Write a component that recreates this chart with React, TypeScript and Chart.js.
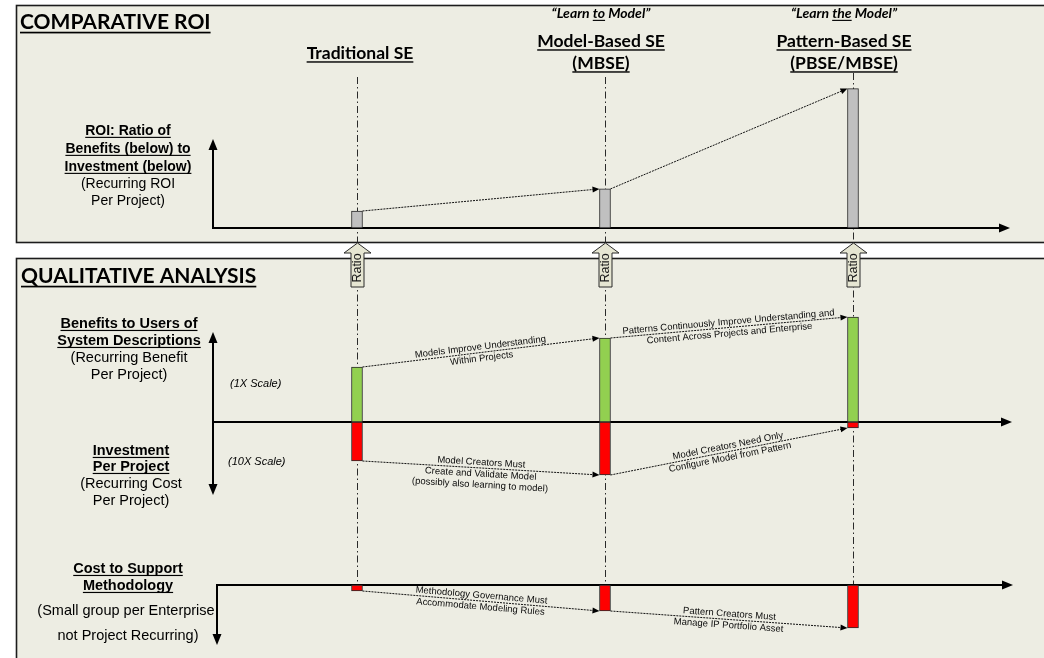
import React, { useEffect, useRef } from 'react';
import { Chart, registerables } from 'chart.js';

Chart.register(...registerables);

// ---------------- data ----------------
const categories = ['Traditional SE', 'Model-Based SE', 'Pattern-Based SE'];
const categorySubtitles = ['', '(MBSE)', '(PBSE/MBSE)'];
const taglines: (string[] | null)[] = [null, ['\u201CLearn ', 'to', ' Model\u201D'], ['\u201CLearn ', 'the', ' Model\u201D']];
const roiRatio = [1.0, 2.3, 8.2];
const benefitPerProject = [5.5, 8.4, 10.5];
const investmentPerProject = [3.9, 5.3, 0.6];
const methodologyCost = [0.6, 2.6, 4.3];
const benefitNotes = [
  ['Models Improve Understanding', 'Within Projects'],
  ['Patterns Continuously Improve Understanding and', 'Content Across Projects and Enterprise'],
];
const investmentNotes = [
  ['Model Creators Must', 'Create and Validate Model', '(possibly also learning to model)'],
  ['Model Creators Need Only', 'Configure Model from Pattern'],
];
const methodologyNotes = [
  ['Methodology Governance Must', 'Accommodate Modeling Rules'],
  ['Pattern Creators Must', 'Manage IP Portfolio Asset'],
];
const panelTitles = ['COMPARATIVE ROI', 'QUALITATIVE ANALYSIS'];
const roiAxisLabel = ['ROI: Ratio of', 'Benefits (below) to', 'Investment (below)'];
const roiAxisSub = ['(Recurring ROI', 'Per Project)'];
const benefitAxisLabel = ['Benefits to Users of', 'System Descriptions'];
const benefitAxisSub = ['(Recurring Benefit', 'Per Project)'];
const investAxisLabel = ['Investment', 'Per Project'];
const investAxisSub = ['(Recurring Cost', 'Per Project)'];
const methodAxisLabel = ['Cost to Support', 'Methodology'];
const methodAxisSub = ['(Small group per Enterprise,', 'not Project Recurring)'];
const scaleNotes = ['(1X Scale)', '(10X Scale)'];
const ratioLabel = 'Ratio';

// ---------------- styling ----------------
const W = 1044;
const H = 658;
const ARIAL = '"Liberation Sans", Arial, sans-serif';
const CAL = 'Lato, "Open Sans", sans-serif';
const PANEL_BG = '#EDEDE3';
const INK = '#000000';

type TOpts = {
  size: number;
  family?: string;
  weight?: string;
  italic?: boolean;
  align?: CanvasTextAlign;
  underline?: boolean;
  color?: string;
  baseline?: CanvasTextBaseline;
};

function text(ctx: CanvasRenderingContext2D, s: string, x: number, y: number, o: TOpts) {
  ctx.font = `${o.italic ? 'italic ' : ''}${o.weight || 'normal'} ${o.size}px ${o.family || ARIAL}`;
  const align = o.align || 'center';
  ctx.textAlign = align;
  ctx.textBaseline = o.baseline || 'alphabetic';
  ctx.fillStyle = o.color || INK;
  ctx.fillText(s, x, y);
  if (o.underline) {
    const w = ctx.measureText(s).width;
    const left = align === 'center' ? x - w / 2 : align === 'right' ? x - w : x;
    ctx.fillRect(left, y + o.size * 0.13, w, Math.max(1, o.size * 0.08));
  }
}

function seg(ctx: CanvasRenderingContext2D, x1: number, y1: number, x2: number, y2: number, w: number, color: string, dash: number[] = []) {
  ctx.save();
  ctx.beginPath();
  ctx.setLineDash(dash);
  ctx.lineWidth = w;
  ctx.strokeStyle = color;
  ctx.moveTo(x1, y1);
  ctx.lineTo(x2, y2);
  ctx.stroke();
  ctx.restore();
}

function head(ctx: CanvasRenderingContext2D, x: number, y: number, angle: number, len: number, half: number, color: string) {
  ctx.save();
  ctx.translate(x, y);
  ctx.rotate(angle);
  ctx.beginPath();
  ctx.moveTo(0, 0);
  ctx.lineTo(-len, -half);
  ctx.lineTo(-len, half);
  ctx.closePath();
  ctx.fillStyle = color;
  ctx.fill();
  ctx.restore();
}

function axisArrow(ctx: CanvasRenderingContext2D, x1: number, y1: number, x2: number, y2: number, both = false) {
  const a = Math.atan2(y2 - y1, x2 - x1);
  const L = 11;
  const sx = both ? x1 + Math.cos(a) * (L - 1) : x1;
  const sy = both ? y1 + Math.sin(a) * (L - 1) : y1;
  seg(ctx, sx, sy, x2 - Math.cos(a) * (L - 1), y2 - Math.sin(a) * (L - 1), 2, INK);
  head(ctx, x2, y2, a, L, 4.5, INK);
  if (both) head(ctx, x1, y1, a + Math.PI, L, 4.5, INK);
}

function labelBlock(ctx: CanvasRenderingContext2D, cx: number, bold: string[], sub: string[], baselines: number[], size: number) {
  let k = 0;
  bold.forEach((s) => text(ctx, s, cx, baselines[k++], { size, weight: 'bold', underline: true }));
  sub.forEach((s) => text(ctx, s, cx, baselines[k++], { size }));
}

const diagramPlugin = {
  id: 'diagram',
  beforeDatasetsDraw(chart: any) {
    const ctx: CanvasRenderingContext2D = chart.ctx;
    const xs = chart.scales.x;
    const yR = chart.scales.yRoi.getPixelForValue(0);
    const yQ = chart.scales.yQual.getPixelForValue(0);
    const yC = chart.scales.yCost.getPixelForValue(0);
    ctx.save();
    ctx.fillStyle = '#FFFFFF';
    ctx.fillRect(0, 0, W, H);

    // panels
    const panels = [
      [16.5, 5.5, 1100, 237],
      [16.5, 258.5, 1100, 500],
    ];
    panels.forEach(([x, y, w, h]) => {
      ctx.fillStyle = PANEL_BG;
      ctx.fillRect(x, y, w, h);
      ctx.lineWidth = 1.6;
      ctx.strokeStyle = '#1c1c1c';
      ctx.strokeRect(x, y, w, h);
    });

    // panel titles
    text(ctx, panelTitles[0], 20, 29, { size: 21, family: CAL, weight: 'bold', align: 'left', underline: true });
    text(ctx, panelTitles[1], 21, 283, { size: 21, family: CAL, weight: 'bold', align: 'left', underline: true });

    // column headers
    const hdrShift = [3, -4, -9];
    categories.forEach((c, i) => {
      const cx = xs.getPixelForValue(i) + hdrShift[i];
      if (categorySubtitles[i]) {
        text(ctx, c, cx, 47, { size: 17.5, family: CAL, weight: 'bold', underline: true });
        text(ctx, categorySubtitles[i], cx, 69, { size: 17.5, family: CAL, weight: 'bold', underline: true });
      } else {
        text(ctx, c, cx, 59, { size: 17.5, family: CAL, weight: 'bold', underline: true });
      }
      const t = taglines[i];
      if (t) {
        ctx.font = `italic bold 14px ${CAL}`;
        const widths = t.map((p) => ctx.measureText(p).width);
        let px = cx - widths.reduce((a, b) => a + b, 0) / 2;
        t.forEach((p, j) => {
          text(ctx, p, px, 18, { size: 14, family: CAL, weight: 'bold', italic: true, align: 'left', underline: j === 1 });
          px += widths[j];
        });
      }
    });

    // dash-dot column guides
    categories.forEach((_, i) => {
      const cx = Math.round(xs.getPixelForValue(i)) + 0.5;
      seg(ctx, cx, i === 2 ? 73 : 77, cx, yC, 1, '#2a2a2a', [7, 3, 1.5, 3]);
    });

    // axes
    axisArrow(ctx, 213, yR + 1, 213, 139);
    axisArrow(ctx, 213, yR, 1010, yR);
    axisArrow(ctx, 213, 332, 213, 495, true);
    axisArrow(ctx, 213, yQ, 1012, yQ);
    axisArrow(ctx, 216, yC, 1013, yC);
    axisArrow(ctx, 217, yC - 1, 217, 645);

    // axis labels
    labelBlock(ctx, 128, roiAxisLabel, roiAxisSub, [135, 153, 171, 188, 205], 14);
    labelBlock(ctx, 129, benefitAxisLabel, benefitAxisSub, [328, 345, 362, 379], 14.5);
    labelBlock(ctx, 131, investAxisLabel, investAxisSub, [455, 471, 488, 505], 14.5);
    labelBlock(ctx, 128, methodAxisLabel, methodAxisSub, [573, 590, 615, 640], 14.5);
    text(ctx, scaleNotes[0], 230, 387, { size: 11, italic: true, align: 'left' });
    text(ctx, scaleNotes[1], 228, 465, { size: 11, italic: true, align: 'left' });
    ctx.restore();
  },
  afterDatasetsDraw(chart: any) {
    const ctx: CanvasRenderingContext2D = chart.ctx;
    const xs = chart.scales.x;
    ctx.save();

    const link = (ds: number, top: boolean, notes: string[][] | null) => {
      const els = chart.getDatasetMeta(ds).data;
      for (let i = 0; i < els.length - 1; i++) {
        const a = els[i];
        const b = els[i + 1];
        const ay = top ? Math.min(a.y, a.base) : Math.max(a.y, a.base);
        const by = top ? Math.min(b.y, b.base) : Math.max(b.y, b.base);
        const x1 = a.x + a.width / 2;
        const x2 = b.x - b.width / 2;
        const ang = Math.atan2(by - ay, x2 - x1);
        seg(ctx, x1, ay, x2 - Math.cos(ang) * 5, by - Math.sin(ang) * 5, 1, '#111111', [2, 1]);
        head(ctx, x2, by, ang, 7, 3, '#000000');
        if (notes && notes[i]) {
          const mx = (x1 + x2) / 2;
          const my = (ay + by) / 2;
          ctx.save();
          ctx.translate(mx, my);
          ctx.rotate(ang);
          notes[i].forEach((s, k) => {
            const off = k === 0 ? -5.5 : 6 + (k - 1) * 11;
            text(ctx, s, 0, off, { size: 9.5, baseline: 'middle', color: '#0a0a0a' });
          });
          ctx.restore();
        }
      }
    };
    link(0, true, null);
    link(1, true, benefitNotes);
    link(2, false, investmentNotes);
    link(3, false, methodologyNotes);

    // "Ratio" block arrows
    categories.forEach((_, i) => {
      const cx = Math.round(xs.getPixelForValue(i)) + 0.5;
      const tip = 243;
      const hb = 253;
      const bot = 287;
      ctx.beginPath();
      ctx.moveTo(cx, tip);
      ctx.lineTo(cx + 13.5, hb);
      ctx.lineTo(cx + 6.5, hb);
      ctx.lineTo(cx + 6.5, bot);
      ctx.lineTo(cx - 6.5, bot);
      ctx.lineTo(cx - 6.5, hb);
      ctx.lineTo(cx - 13.5, hb);
      ctx.closePath();
      ctx.fillStyle = '#E6E6D2';
      ctx.fill();
      ctx.lineWidth = 1;
      ctx.strokeStyle = '#2a2a2a';
      ctx.stroke();
      ctx.save();
      ctx.translate(cx + 0.5, 268);
      ctx.rotate(-Math.PI / 2);
      text(ctx, ratioLabel, 0, 0, { size: 12.5, baseline: 'middle', color: '#1a1a1a' });
      ctx.restore();
    });
    ctx.restore();
  },
};

export default function App() {
  const ref = useRef<HTMLCanvasElement>(null);
  useEffect(() => {
    const canvas = ref.current;
    if (!canvas) return;
    const barStyle = {
      type: 'bar' as const,
      barThickness: 11,
      borderWidth: 1,
      borderColor: '#2a2a2a',
      borderSkipped: false,
      grouped: false,
    };
    const chart = new Chart(canvas, {
      type: 'bar',
      data: {
        datasets: [
          { ...barStyle, label: 'ROI', yAxisID: 'yRoi', backgroundColor: '#C0C0C0', data: roiRatio.map((v, i) => ({ x: i, y: v })) } as any,
          { ...barStyle, label: 'Benefit', yAxisID: 'yQual', backgroundColor: '#92D050', data: benefitPerProject.map((v, i) => ({ x: i, y: [0, v] })) } as any,
          { ...barStyle, label: 'Investment', yAxisID: 'yQual', backgroundColor: '#FF0000', data: investmentPerProject.map((v, i) => ({ x: i, y: [0, -v] })) } as any,
          { ...barStyle, label: 'Methodology', yAxisID: 'yCost', backgroundColor: '#FF0000', data: methodologyCost.map((v, i) => ({ x: i, y: [0, -v] })) } as any,
        ],
      },
      options: {
        animation: false,
        responsive: false,
        devicePixelRatio: 1,
        events: [],
        layout: { padding: 0 },
        plugins: { legend: { display: false }, tooltip: { enabled: false }, title: { display: false } },
        scales: {
          x: { type: 'linear', display: false, offset: false, bounds: 'data', min: -1.4395, max: 2.7702 },
          yRoi: { type: 'linear', display: false, bounds: 'data', min: 13.4118 - 658 / 17, max: 13.4118 },
          yQual: { type: 'linear', display: false, bounds: 'data', min: 42.2 - 65.8, max: 42.2 },
          yCost: { type: 'linear', display: false, bounds: 'data', min: 58.5 - 65.8, max: 58.5 },
        },
      } as any,
      plugins: [diagramPlugin],
    });
    return () => chart.destroy();
  }, []);
  return (
    <div style={{ position: 'absolute', left: 0, top: 0, width: W, height: H, background: '#fff' }}>
      <canvas ref={ref} width={W} height={H} style={{ display: 'block' }} />
    </div>
  );
}
